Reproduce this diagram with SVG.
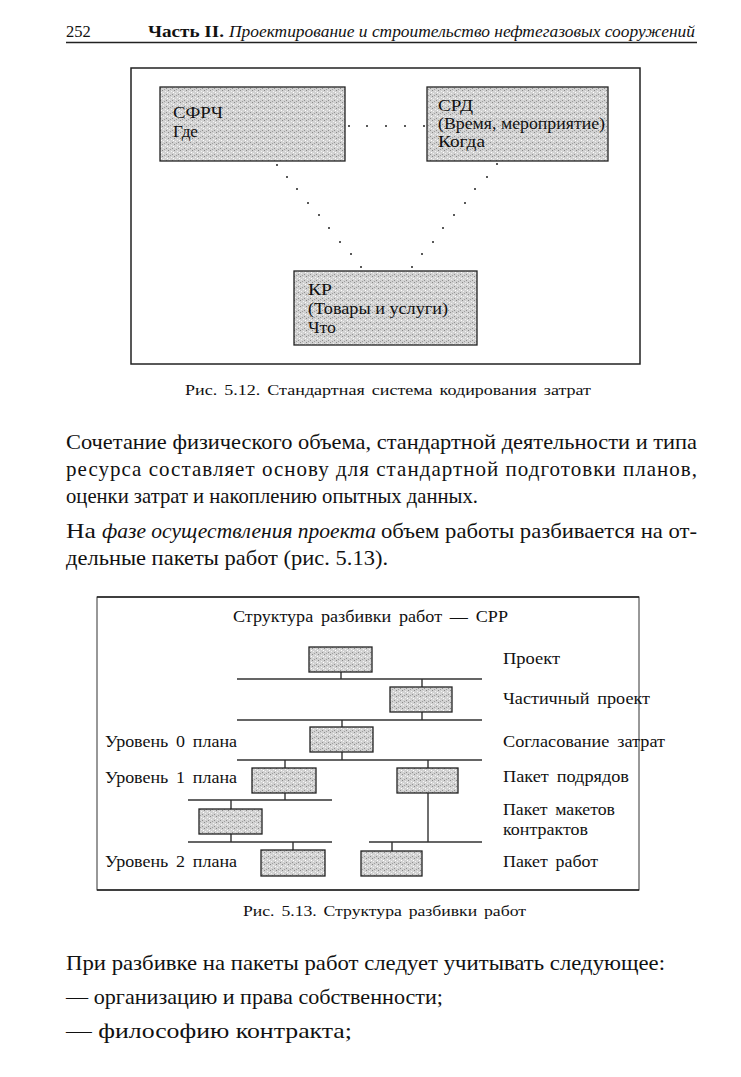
<svg xmlns="http://www.w3.org/2000/svg" width="741" height="1077" viewBox="0 0 741 1077">
<defs>
<pattern id="stip" width="6" height="6" patternUnits="userSpaceOnUse">
<rect width="6" height="6" fill="#d2d2d2"/>
<rect x="0" y="0" width="1" height="1" fill="#8a8a8a"/>
<rect x="3" y="1" width="1" height="1" fill="#f2f2f2"/>
<rect x="1" y="3" width="1" height="1" fill="#f0f0f0"/>
<rect x="4" y="4" width="1" height="1" fill="#909090"/>
<rect x="2" y="5" width="1" height="1" fill="#a0a0a0"/>
<rect x="5" y="2" width="1" height="1" fill="#ffffff"/>
</pattern>
<style>
.t{font-family:"Liberation Serif","Times New Roman",serif;fill:#111}
.lb{font-size:16.5px;word-spacing:3px}
.cap{font-size:14.5px;word-spacing:2px}
.box{fill:url(#stip);stroke:#222;stroke-width:1.3}
.con{stroke:#333;stroke-width:1.4;fill:none}
.dot{fill:#222}
</style>
</defs>
<rect width="741" height="1077" fill="#ffffff"/>

<g id="header">
<text class="t" x="66" y="37" font-size="16.5">252</text>
<text class="t" x="148" y="37" font-size="16.5" font-weight="bold" textLength="76" lengthAdjust="spacingAndGlyphs">Часть II.</text>
<text class="t" x="229" y="37" font-size="16.5" font-style="italic" textLength="466" lengthAdjust="spacingAndGlyphs">Проектирование и строительство нефтегазовых сооружений</text>
<line x1="66" y1="42.5" x2="697" y2="42.5" stroke="#222" stroke-width="1.3"/>
</g>

<g id="fig512">
<rect x="131" y="68" width="509" height="296" fill="none" stroke="#222" stroke-width="1.5"/>
<g id="sfrch">
<rect class="box" x="160" y="87" width="185" height="74"/>
<text class="t" x="173" y="118" font-size="17.5" textLength="50" lengthAdjust="spacingAndGlyphs">СФРЧ</text>
<text class="t" x="173" y="137" font-size="17.5" textLength="25" lengthAdjust="spacingAndGlyphs">Где</text>
</g>
<g id="srd">
<rect class="box" x="427" y="87" width="181" height="74"/>
<text class="t" x="438" y="111" font-size="17.5" textLength="35" lengthAdjust="spacingAndGlyphs">СРД</text>
<text class="t" x="438" y="129" font-size="17.5" textLength="167" lengthAdjust="spacingAndGlyphs">(Время, мероприятие)</text>
<text class="t" x="438" y="147" font-size="17.5" textLength="47" lengthAdjust="spacingAndGlyphs">Когда</text>
</g>
<g id="kr">
<rect class="box" x="294" y="271" width="183" height="74"/>
<text class="t" x="308" y="295" font-size="17.5" textLength="24" lengthAdjust="spacingAndGlyphs">КР</text>
<text class="t" x="308" y="314" font-size="17.5" textLength="140" lengthAdjust="spacingAndGlyphs">(Товары и услуги)</text>
<text class="t" x="308" y="333" font-size="17.5" textLength="28" lengthAdjust="spacingAndGlyphs">Что</text>
</g>
<g id="dots">
<circle class="dot" cx="349" cy="126" r="1"/>
<circle class="dot" cx="367" cy="126" r="1"/>
<circle class="dot" cx="386" cy="126" r="1"/>
<circle class="dot" cx="405" cy="126" r="1"/>
<circle class="dot" cx="424" cy="126" r="1"/>
<circle class="dot" cx="277" cy="165" r="1"/>
<circle class="dot" cx="287" cy="177" r="1"/>
<circle class="dot" cx="297" cy="189" r="1"/>
<circle class="dot" cx="308" cy="203" r="1"/>
<circle class="dot" cx="319" cy="215" r="1"/>
<circle class="dot" cx="329" cy="228" r="1"/>
<circle class="dot" cx="340" cy="242" r="1"/>
<circle class="dot" cx="351" cy="254" r="1"/>
<circle class="dot" cx="361" cy="267" r="1"/>
<circle class="dot" cx="497" cy="164" r="1"/>
<circle class="dot" cx="487" cy="177" r="1"/>
<circle class="dot" cx="475" cy="189" r="1"/>
<circle class="dot" cx="465" cy="203" r="1"/>
<circle class="dot" cx="454" cy="215" r="1"/>
<circle class="dot" cx="443" cy="228" r="1"/>
<circle class="dot" cx="433" cy="242" r="1"/>
<circle class="dot" cx="422" cy="254" r="1"/>
<circle class="dot" cx="412" cy="267" r="1"/>
</g>
<text class="t cap" x="185" y="395" textLength="406" lengthAdjust="spacingAndGlyphs">Рис. 5.12.  Стандартная система кодирования затрат</text>
</g>

<g id="body1">
<text class="t" x="66" y="449" font-size="21" textLength="631" lengthAdjust="spacingAndGlyphs">Сочетание физического объема, стандартной деятельности и типа</text>
<text class="t" x="66" y="476" font-size="21" textLength="631" lengthAdjust="spacing">ресурса составляет основу для стандартной подготовки планов,</text>
<text class="t" x="66" y="503" font-size="21" textLength="412" lengthAdjust="spacingAndGlyphs">оценки затрат и накоплению опытных данных.</text>
<text class="t" x="66" y="538" font-size="21" textLength="30" lengthAdjust="spacingAndGlyphs">На</text>
<text class="t" x="102" y="538" font-size="21" font-style="italic" textLength="274" lengthAdjust="spacingAndGlyphs">фазе осуществления проекта</text>
<text class="t" x="381" y="538" font-size="21" textLength="316" lengthAdjust="spacingAndGlyphs">объем работы разбивается на от-</text>
<text class="t" x="66" y="565" font-size="21" textLength="322" lengthAdjust="spacingAndGlyphs">дельные пакеты работ (рис. 5.13).</text>
</g>

<g id="fig513">
<rect x="97" y="597" width="542" height="293" fill="none" stroke="#333" stroke-width="1"/>
<line x1="97" y1="597" x2="639" y2="597" stroke="#222" stroke-width="1.6"/>
<line x1="97" y1="890" x2="639" y2="890" stroke="#222" stroke-width="1.6"/>
<text class="t lb" x="233" y="622" textLength="275" lengthAdjust="spacingAndGlyphs">Структура разбивки работ — СРР</text>

<g id="connectors">
<path class="con" d="M237 679H482 M237 720H482 M237 760H482 M188 800H332 M188 842H332 M369 842H482"/>
<path class="con" d="M341 672V679 M422 679V687 M422 712V720 M342 720V727 M342 752V760 M285 760V768 M285 793V800 M428 760V768 M428 793V842 M231 800V809 M231 834V842 M293 842V850 M392 842V851"/>
</g>

<g id="n-proekt"><rect class="box" x="309" y="647" width="63" height="25"/></g>
<g id="n-chast"><rect class="box" x="390" y="687" width="62" height="25"/></g>
<g id="n-soglas"><rect class="box" x="310" y="727" width="63" height="25"/></g>
<g id="n-l1a"><rect class="box" x="252" y="768" width="64" height="25"/></g>
<g id="n-l1b"><rect class="box" x="397" y="768" width="61" height="25"/></g>
<g id="n-maket"><rect class="box" x="199" y="809" width="63" height="25"/></g>
<g id="n-l2a"><rect class="box" x="261" y="850" width="64" height="26"/></g>
<g id="n-l2b"><rect class="box" x="361" y="851" width="61" height="25"/></g>

<g id="labels-left">
<text class="t lb" x="105" y="747" textLength="132" lengthAdjust="spacingAndGlyphs">Уровень 0 плана</text>
<text class="t lb" x="105" y="783" textLength="132" lengthAdjust="spacingAndGlyphs">Уровень 1 плана</text>
<text class="t lb" x="105" y="867" textLength="132" lengthAdjust="spacingAndGlyphs">Уровень 2 плана</text>
</g>
<g id="labels-right">
<text class="t lb" x="503" y="664" textLength="57" lengthAdjust="spacingAndGlyphs">Проект</text>
<text class="t lb" x="503" y="704" textLength="147" lengthAdjust="spacingAndGlyphs">Частичный проект</text>
<text class="t lb" x="503" y="747" textLength="162" lengthAdjust="spacingAndGlyphs">Согласование затрат</text>
<text class="t lb" x="503" y="782" textLength="126" lengthAdjust="spacingAndGlyphs">Пакет подрядов</text>
<text class="t lb" x="503" y="815" textLength="112" lengthAdjust="spacingAndGlyphs">Пакет макетов</text>
<text class="t lb" x="503" y="835" textLength="85" lengthAdjust="spacingAndGlyphs">контрактов</text>
<text class="t lb" x="503" y="867" textLength="95" lengthAdjust="spacingAndGlyphs">Пакет работ</text>
</g>
<text class="t cap" x="243" y="916" textLength="283" lengthAdjust="spacingAndGlyphs">Рис. 5.13.  Структура разбивки работ</text>
</g>

<g id="body2">
<text class="t" x="66" y="970" font-size="21" textLength="599" lengthAdjust="spacingAndGlyphs">При разбивке на пакеты работ следует учитывать следующее:</text>
<text class="t" x="66" y="1004" font-size="21" textLength="377" lengthAdjust="spacingAndGlyphs">— организацию и права собственности;</text>
<text class="t" x="66" y="1038" font-size="21" textLength="286" lengthAdjust="spacingAndGlyphs">— философию контракта;</text>
</g>
</svg>
